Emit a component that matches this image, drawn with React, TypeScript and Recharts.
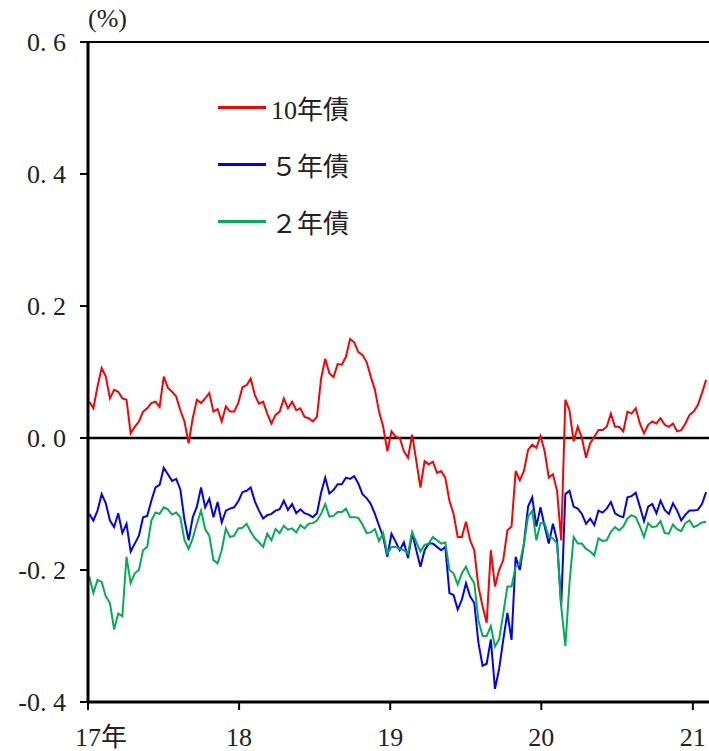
import React from 'react';
import { LineChart, Line, XAxis, YAxis, ReferenceLine } from 'recharts';

// 10-day sampling grid starting 2017-01-04, values in %
const START = Date.UTC(2017, 0, 4);
const STEP_DAYS = 10;

const jgb10y = [
  0.055, 0.045, 0.078, 0.106, 0.093, 0.06, 0.073, 0.07, 0.06, 0.058,
  0.007, 0.017, 0.025, 0.04, 0.045, 0.053, 0.055, 0.047, 0.093, 0.076,
  0.07, 0.063, 0.042, 0.025, -0.008, 0.03, 0.058, 0.053, 0.06, 0.068,
  0.04, 0.044, 0.025, 0.048, 0.04, 0.04, 0.053, 0.077, 0.08, 0.09,
  0.065, 0.052, 0.055, 0.037, 0.022, 0.035, 0.04, 0.06, 0.045, 0.055,
  0.042, 0.045, 0.032, 0.03, 0.025, 0.032, 0.09, 0.12, 0.098, 0.092,
  0.112, 0.111, 0.123, 0.15, 0.145, 0.13, 0.126, 0.115, 0.093, 0.073,
  0.04, 0.017, -0.02, 0.01, 0.002, 0.0, -0.02, -0.03, 0.005, -0.035,
  -0.075, -0.035, -0.04, -0.036, -0.053, -0.05, -0.06, -0.095, -0.115, -0.15,
  -0.15, -0.127, -0.155, -0.17, -0.225, -0.255, -0.28, -0.17, -0.225, -0.2,
  -0.185, -0.14, -0.134, -0.05, -0.064, -0.05, -0.018, -0.01, -0.015, 0.003,
  -0.02, -0.06, -0.055, -0.08, -0.155, 0.058, 0.042, -0.005, 0.017, 0.0,
  -0.03, -0.008, 0.002, 0.012, 0.012, 0.017, 0.037, 0.017, 0.017, 0.01,
  0.04, 0.037, 0.045, 0.022, 0.007, 0.02, 0.025, 0.022, 0.03, 0.02,
  0.017, 0.022, 0.01, 0.012, 0.022, 0.035, 0.04, 0.05, 0.068, 0.088,
];

const jgb5y = [
  -0.115, -0.125, -0.11, -0.085, -0.099, -0.125, -0.135, -0.114, -0.144, -0.13,
  -0.172, -0.16, -0.148, -0.12, -0.118, -0.095, -0.075, -0.071, -0.045, -0.055,
  -0.065, -0.062, -0.078, -0.124, -0.155, -0.12, -0.104, -0.075, -0.105, -0.092,
  -0.12, -0.097, -0.128, -0.11, -0.107, -0.105, -0.096, -0.082, -0.08, -0.075,
  -0.096, -0.11, -0.122, -0.117, -0.115, -0.11, -0.108, -0.095, -0.109, -0.1,
  -0.114, -0.108, -0.114, -0.116, -0.12, -0.114, -0.083, -0.06, -0.084, -0.079,
  -0.07, -0.07, -0.06, -0.062, -0.058, -0.069, -0.085, -0.091, -0.1, -0.115,
  -0.133, -0.15, -0.18, -0.145, -0.157, -0.17, -0.158, -0.182, -0.144, -0.17,
  -0.195, -0.17, -0.16, -0.16, -0.165, -0.17, -0.165, -0.235, -0.238, -0.26,
  -0.245, -0.22, -0.24, -0.25, -0.31, -0.345, -0.342, -0.305, -0.38, -0.35,
  -0.306, -0.265, -0.306, -0.18, -0.2, -0.16, -0.104, -0.09, -0.134, -0.105,
  -0.134, -0.16, -0.13, -0.155, -0.255, -0.085, -0.08, -0.104, -0.107, -0.115,
  -0.13, -0.122, -0.132, -0.11, -0.113, -0.107, -0.097, -0.114, -0.118, -0.12,
  -0.09, -0.088, -0.083, -0.104, -0.126, -0.104, -0.1, -0.114, -0.095, -0.109,
  -0.115, -0.099, -0.11, -0.125, -0.116, -0.11, -0.11, -0.109, -0.1, -0.082,
];

const jgb2y = [
  -0.21, -0.235, -0.215, -0.218, -0.24, -0.25, -0.29, -0.266, -0.27, -0.18,
  -0.22, -0.205, -0.2, -0.17, -0.165, -0.125, -0.113, -0.115, -0.105, -0.108,
  -0.116, -0.113, -0.12, -0.155, -0.168, -0.152, -0.13, -0.11, -0.138, -0.148,
  -0.185, -0.19, -0.17, -0.137, -0.15, -0.148, -0.137, -0.136, -0.13, -0.142,
  -0.152, -0.158, -0.165, -0.145, -0.155, -0.138, -0.144, -0.133, -0.139, -0.137,
  -0.143, -0.132, -0.137, -0.13, -0.129, -0.125, -0.115, -0.1, -0.119, -0.118,
  -0.112, -0.112, -0.107, -0.12, -0.12, -0.121, -0.131, -0.144, -0.143, -0.138,
  -0.156, -0.144, -0.175, -0.165, -0.165, -0.168, -0.17, -0.175, -0.142, -0.158,
  -0.172, -0.162, -0.16, -0.15, -0.155, -0.16, -0.158, -0.2, -0.205, -0.222,
  -0.205, -0.195, -0.21, -0.22, -0.276, -0.3, -0.3, -0.285, -0.316, -0.305,
  -0.266, -0.225, -0.225, -0.195, -0.19, -0.16, -0.119, -0.11, -0.155, -0.129,
  -0.129, -0.15, -0.152, -0.16, -0.255, -0.315, -0.22, -0.15, -0.16, -0.16,
  -0.168, -0.172, -0.178, -0.152, -0.156, -0.155, -0.142, -0.135, -0.14, -0.134,
  -0.122, -0.117, -0.12, -0.134, -0.15, -0.129, -0.135, -0.134, -0.126, -0.144,
  -0.145, -0.131, -0.138, -0.141, -0.129, -0.125, -0.135, -0.132, -0.128, -0.127,
];

const yearTicks = [2017, 2018, 2019, 2020, 2021];
const yTicks = [-0.4, -0.2, 0, 0.2, 0.4, 0.6];
const yLabels = ['-0. 4', '-0. 2', '0. 0', '0. 2', '0. 4', '0. 6'];

const series = [
  { key: 'y10', name: '10年債', color: '#ff0000' },
  { key: 'y5', name: '５年債', color: '#0000ff' },
  { key: 'y2', name: '２年債', color: '#00b050' },
];

const DAY = 86400000;
const data = jgb10y.map((v, i) => ({
  t: START + i * STEP_DAYS * DAY,
  y10: v,
  y5: jgb5y[i],
  y2: jgb2y[i],
}));

const FONT = "'Liberation Serif', 'Times New Roman', 'DejaVu Serif', 'Noto Sans CJK JP', serif";

const XTick = (props: any) => {
  const { x, y, payload } = props;
  const yr = new Date(payload.value).getUTCFullYear();
  const label = String(yr % 100);
  if (yr === 2017) {
    return (
      <text x={x - 13} y={y + 34} textAnchor="start" fontSize={26} style={{ fontFamily: FONT }} fill="#222">
        {label}年
      </text>
    );
  }
  return (
    <text x={x} y={y + 34} textAnchor="middle" fontSize={26} style={{ fontFamily: FONT }} fill="#222">
      {label}
    </text>
  );
};

const YTick = (props: any) => {
  const { x, y, payload } = props;
  const idx = yTicks.findIndex((v) => Math.abs(v - payload.value) < 1e-9);
  return (
    <text x={x} y={y} dy="0.36em" textAnchor="end" fontSize={26} style={{ fontFamily: FONT }} fill="#222">
      {idx >= 0 ? yLabels[idx] : payload.value}
    </text>
  );
};

export default function App() {
  return (
    <div style={{ position: 'absolute', left: 0, top: 0, width: 709, height: 751, background: '#fff' }}>
      <LineChart width={709} height={751} data={data} margin={{ top: 42, right: 0, bottom: 0, left: 0 }}>
        <XAxis
          dataKey="t"
          type="number"
          domain={[Date.UTC(2017, 0, 1), Date.UTC(2021, 1, 9)]}
          ticks={yearTicks.map((y) => Date.UTC(y, 0, 1))}
          tick={<XTick />}
          interval={0}
          height={49}
          tickSize={8}
          axisLine={{ stroke: '#000', strokeWidth: 3 }}
          tickLine={{ stroke: '#000', strokeWidth: 2 }}
          allowDataOverflow
        />
        <YAxis
          type="number"
          domain={[-0.4, 0.6]}
          ticks={yTicks}
          tick={<YTick />}
          interval={0}
          width={88}
          tickSize={8}
          tickMargin={14}
          axisLine={{ stroke: '#000', strokeWidth: 3 }}
          tickLine={{ stroke: '#000', strokeWidth: 2 }}
          allowDataOverflow
        />
        <ReferenceLine y={0.6} stroke="#000" strokeWidth={2} />
        <ReferenceLine y={0} stroke="#000" strokeWidth={2.5} />
        <Line dataKey="y5" name="５年債" stroke="#0000ff" strokeWidth={2} dot={false} isAnimationActive={false} type="linear" />
        <Line dataKey="y2" name="２年債" stroke="#00b050" strokeWidth={2} dot={false} isAnimationActive={false} type="linear" />
        <Line dataKey="y10" name="10年債" stroke="#ff0000" strokeWidth={2} dot={false} isAnimationActive={false} type="linear" />
      </LineChart>
      <div style={{ position: 'absolute', left: 88, top: 4, fontFamily: FONT, fontSize: 26, color: '#222' }}>(%)</div>
      <div style={{ position: 'absolute', left: 218, top: 79, fontFamily: FONT, fontSize: 26, color: '#222' }}>
        {series.map((s) => (
          <div key={s.key} style={{ display: 'flex', alignItems: 'center', height: 57 }}>
            <div style={{ width: 48, height: 3, background: s.color, marginRight: 5 }} />
            <span>{s.name}</span>
          </div>
        ))}
      </div>
    </div>
  );
}
